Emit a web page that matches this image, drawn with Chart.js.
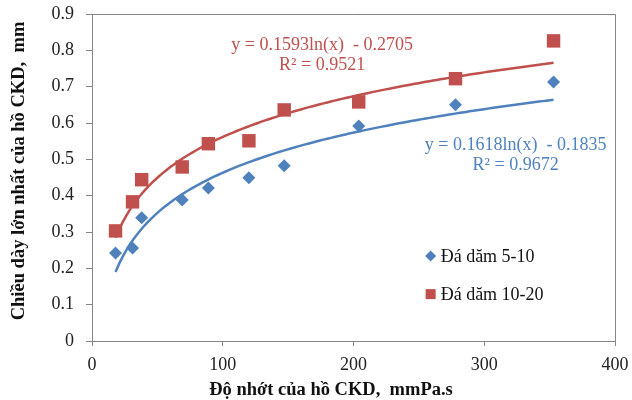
<!DOCTYPE html>
<html>
<head>
<meta charset="utf-8">
<script src="https://cdn.jsdelivr.net/npm/chart.js@4"></script>
<style>
html,body{margin:0;padding:0;background:#fff;}
#wrap{width:632px;height:400px;}
</style>
</head>
<body>
<div id="wrap"><canvas id="c" width="632" height="400"></canvas></div>
<script>
// ---- data ----
const viscosity = [18, 31, 38, 69, 89, 120, 147, 204, 278, 353];
const stone5_10 = [0.242, 0.256, 0.339, 0.388, 0.421, 0.449, 0.482, 0.592, 0.650, 0.713];
const stone10_20 = [0.303, 0.383, 0.444, 0.479, 0.543, 0.551, 0.636, 0.658, 0.722, 0.826];
const seriesNames = ['Đá dăm 5-10', 'Đá dăm 10-20'];
// trendline coefficients as printed on the chart: y = a*ln(x) + b
const trendBlue = [0.1593, -0.2705];
const trendRed = [0.1618, -0.1835];
const eqTextRed = ['y = 0.1593ln(x)  - 0.2705', 'R² = 0.9521'];
const eqTextBlue = ['y = 0.1618ln(x)  - 0.1835', 'R² = 0.9672'];
const xTicks = [0, 100, 200, 300, 400];
const yTicks = [0, 0.1, 0.2, 0.3, 0.4, 0.5, 0.6, 0.7, 0.8, 0.9];
const xTitle = 'Độ nhớt của hồ CKD,  mmPa.s';
const yTitle = 'Chiều dày lớn nhất của hồ CKD,  mm';

const BLUE = '#4F81BD';
const RED = '#C0504D';
const AXIS = '#868686';
const SERIF = '"Liberation Serif", "Times New Roman", serif';

function pts(xs, ys) { return xs.map((x, i) => ({x: x, y: ys[i]})); }
function trend(coef) {
  const lo = Math.min(...viscosity), hi = Math.max(...viscosity);
  const out = [];
  const n = 120;
  for (let i = 0; i <= n; i++) {
    const x = lo + (hi - lo) * i / n;
    out.push({x: x, y: coef[0] * Math.log(x) + coef[1]});
  }
  return out;
}

const boxPlugin = {
  id: 'box',
  afterDraw(chart) {
    const a = chart.chartArea, ctx = chart.ctx;
    ctx.save();
    ctx.strokeStyle = AXIS;
    ctx.lineWidth = 1;
    ctx.beginPath();
    ctx.moveTo(a.left, a.top + 0.5);
    ctx.lineTo(a.right + 0.5, a.top + 0.5);
    ctx.lineTo(a.right + 0.5, a.bottom);
    ctx.stroke();
    // axis titles
    ctx.fillStyle = '#111';
    ctx.font = 'bold 18.5px ' + SERIF;
    ctx.textAlign = 'center';
    ctx.textBaseline = 'middle';
    ctx.fillText(xTitle, 331, 390);
    ctx.translate(19, 171);
    ctx.rotate(-Math.PI / 2);
    ctx.fillText(yTitle, 0, 0);
    ctx.restore();
  }
};

const textPlugin = {
  id: 'eqtext',
  afterDatasetsDraw(chart) {
    const ctx = chart.ctx, xs = chart.scales.x, ys = chart.scales.y;
    ctx.save();
    ctx.font = '18px ' + SERIF;
    ctx.textAlign = 'center';
    ctx.textBaseline = 'middle';
    const draw = (lines, cx, cy1, cy2, color) => {
      ctx.fillStyle = color;
      ctx.fillText(lines[0], xs.getPixelForValue(cx), ys.getPixelForValue(cy1));
      ctx.fillText(lines[1], xs.getPixelForValue(cx), ys.getPixelForValue(cy2));
    };
    draw(eqTextRed, 176, 0.813, 0.758, RED);
    draw(eqTextBlue, 324, 0.540, 0.485, BLUE);
    // legend
    const items = [
      {name: seriesNames[0], color: BLUE, shape: 'diamond', y: 0.234},
      {name: seriesNames[1], color: RED, shape: 'square', y: 0.129}
    ];
    const mx = xs.getPixelForValue(259);
    ctx.textAlign = 'left';
    items.forEach(it => {
      const py = ys.getPixelForValue(it.y);
      ctx.fillStyle = it.color;
      ctx.beginPath();
      if (it.shape === 'diamond') {
        ctx.moveTo(mx, py - 5.5); ctx.lineTo(mx + 5.5, py); ctx.lineTo(mx, py + 5.5); ctx.lineTo(mx - 5.5, py);
        ctx.closePath(); ctx.fill();
      } else {
        ctx.fillRect(mx - 5, py - 5, 10, 10);
      }
      ctx.fillStyle = '#111';
      ctx.fillText(it.name, mx + 10, py + 1);
    });
    ctx.restore();
  }
};

new Chart(document.getElementById('c'), {
  type: 'scatter',
  data: {
    datasets: [
      {label: 'trendRed', data: trend(trendRed), showLine: true, borderColor: RED, borderWidth: 2.5, pointRadius: 0, tension: 0, order: 3},
      {label: 'trendBlue', data: trend(trendBlue), showLine: true, borderColor: BLUE, borderWidth: 2.5, pointRadius: 0, tension: 0, order: 4},
      {label: seriesNames[0], data: pts(viscosity, stone5_10), pointStyle: 'rectRot', pointRadius: 6.5, backgroundColor: BLUE, borderColor: BLUE, borderWidth: 0, order: 2},
      {label: seriesNames[1], data: pts(viscosity, stone10_20), pointStyle: 'rect', pointRadius: 9.5, backgroundColor: RED, borderColor: RED, borderWidth: 0, order: 1}
    ]
  },
  options: {
    responsive: false,
    animation: false,
    layout: {padding: {left: 0, top: 14, right: 17, bottom: 0}},
    plugins: {legend: {display: false}, tooltip: {enabled: false}},
    scales: {
      x: {
        type: 'linear', min: 0, max: 400,
        afterBuildTicks: s => { s.ticks = xTicks.map(v => ({value: v})); },
        afterFit: s => { s.height = 59; s.paddingLeft = 0; s.paddingRight = 0; },
        grid: {display: true, drawOnChartArea: false, drawTicks: true, tickLength: 5, color: AXIS},
        border: {color: AXIS, width: 1},
        ticks: {color: '#222', font: {family: SERIF, size: 18}, padding: 8, callback: v => String(v)},
        title: {display: false}
      },
      y: {
        type: 'linear', min: 0, max: 0.9,
        afterBuildTicks: s => { s.ticks = yTicks.map(v => ({value: v})); },
        afterFit: s => { s.width = 92; s.paddingTop = 0; s.paddingBottom = 0; },
        grid: {display: true, drawOnChartArea: false, drawTicks: true, tickLength: 6, color: AXIS},
        border: {color: AXIS, width: 1},
        ticks: {color: '#222', font: {family: SERIF, size: 18}, padding: 12, callback: v => String(v)},
        title: {display: false}
      }
    }
  },
  plugins: [boxPlugin, textPlugin]
});
</script>
</body>
</html>
